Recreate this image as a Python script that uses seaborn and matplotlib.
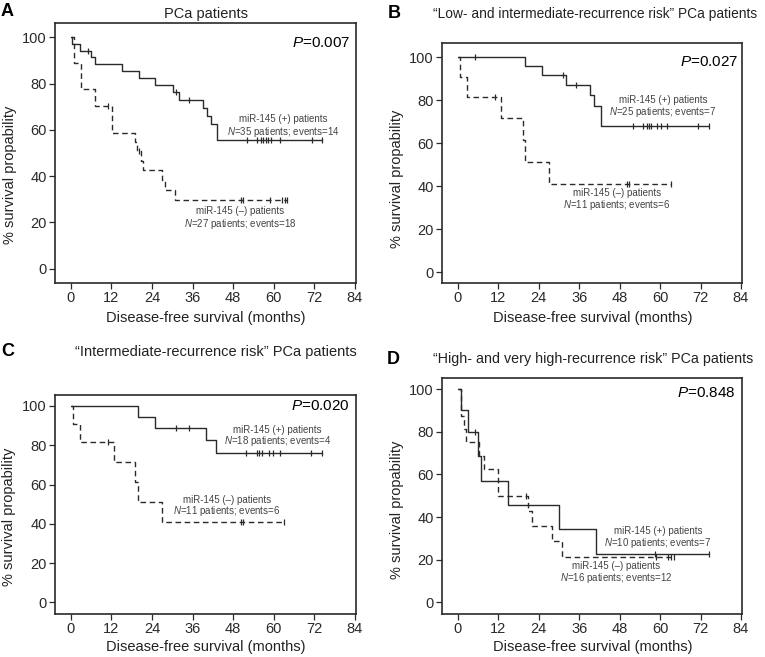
import matplotlib

matplotlib.use("Agg")
import matplotlib.pyplot as plt
import numpy as np
import seaborn as sns

# Kaplan-Meier step curves (months, % survival)
A_POS_TIMES = [0, 0.4, 2.7, 5.8, 7.1, 15.0, 20.0, 24.8, 30.3, 32.0, 39.0, 40.1, 41.4, 43.1, 74.2]
A_POS_SURV = [100, 97.1, 94.3, 91.4, 88.4, 85.4, 82.3, 79.3, 76.2, 73.0, 69.5, 66.0, 62.5, 55.5, 55.5]
A_POS_CENS = [5.1, 31.0, 34.9, 52.0, 55.1, 56.1, 56.9, 57.7, 58.4, 59.1, 61.8, 71.2, 74.2]
A_NEG_TIMES = [0, 0.8, 3.0, 7.0, 12.3, 19.0, 19.6, 20.6, 21.4, 26.8, 27.8, 30.8, 64.0]
A_NEG_SURV = [100, 88.9, 77.8, 70.4, 58.7, 54.8, 50.9, 46.7, 42.5, 38.3, 34.0, 29.8, 29.8]
A_NEG_CENS = [11.1, 20.0, 50.2, 51.0, 58.8, 62.4, 63.2, 64.0]

B_POS_TIMES = [0, 20.0, 25.1, 32.0, 39.3, 40.4, 42.6, 74.6]
B_POS_SURV = [100, 96.0, 91.7, 87.2, 82.4, 77.6, 67.9, 67.9]
B_POS_CENS = [5.1, 31.2, 35.0, 52.0, 55.0, 56.0, 56.6, 57.2, 59.2, 60.2, 62.1, 71.3, 74.6]
B_NEG_TIMES = [0, 0.7, 2.7, 12.9, 19.2, 20.0, 27.0, 63.2]
B_NEG_SURV = [100, 90.9, 81.8, 71.6, 61.4, 51.1, 40.9, 40.9]
B_NEG_CENS = [11.1, 50.3, 50.9, 63.2]

C_POS_TIMES = [0, 19.9, 24.8, 39.8, 42.9, 74.2]
C_POS_SURV = [100, 94.4, 88.9, 82.5, 76.2, 76.2]
C_POS_CENS = [31.0, 34.9, 51.8, 54.9, 55.7, 56.6, 58.7, 59.7, 61.8, 70.9, 74.2]
C_NEG_TIMES = [0, 0.7, 2.7, 12.8, 18.9, 19.9, 26.8, 63.0]
C_NEG_SURV = [100, 90.9, 81.8, 71.6, 61.4, 51.1, 40.9, 40.9]
C_NEG_CENS = [10.9, 50.3, 50.9, 63.0]

D_POS_TIMES = [0, 1.0, 2.9, 5.9, 6.9, 15.0, 30.1, 41.1, 74.6]
D_POS_SURV = [100, 90.0, 80.0, 68.6, 57.1, 45.7, 34.3, 22.9, 22.9]
D_POS_CENS = [5.0, 58.4, 74.6]
D_NEG_TIMES = [0, 0.8, 1.8, 2.5, 6.4, 7.9, 12.0, 20.9, 21.9, 27.9, 30.8, 64.0]
D_NEG_SURV = [100, 87.5, 81.3, 75.0, 68.8, 62.5, 50.0, 42.9, 35.7, 28.6, 21.4, 21.4]
D_NEG_CENS = [20.3, 58.8, 62.4, 63.3, 64.0]

LETTERS = ["A", "B", "C", "D"]
TITLES = [
    "PCa patients",
    "\u201cLow- and intermediate-recurrence risk\u201d PCa patients",
    "\u201cIntermediate-recurrence risk\u201d PCa patients",
    "\u201cHigh- and very high-recurrence risk\u201d PCa patients",
]
P_VALUES = ["0.007", "0.027", "0.020", "0.848"]
POS_N = [35, 25, 18, 10]
POS_EVENTS = [14, 7, 4, 7]
NEG_N = [27, 11, 11, 16]
NEG_EVENTS = [18, 6, 6, 12]

X_TICKS = [0, 12, 24, 36, 48, 60, 72, 84]
Y_TICKS = [0, 20, 40, 60, 80, 100]

W, H = 765, 657
INK = "#2a2a2a"
TEXT_GREY = "#444444"

# layout in figure pixels: (left, top, right, bottom), ylim, text spots
PANELS = [
    dict(box=(55, 23, 356, 283), ylim=(-6.2, 106.2),
         curves=((A_POS_TIMES, A_POS_SURV, A_POS_CENS), (A_NEG_TIMES, A_NEG_SURV, A_NEG_CENS)),
         p_xy=(0.98, 0.923), pos_xy=(62.7, 64.8), neg_xy=(50.0, 25.0),
         letter_xy=(7, 12), title_xy=(206, 14), title_size=10.5,
         ylab_xy=(10, 175), xlab_xy=(206, 318)),
    dict(box=(442, 43, 742, 283), ylim=(-5.0, 106.7),
         curves=((B_POS_TIMES, B_POS_SURV, B_POS_CENS), (B_NEG_TIMES, B_NEG_SURV, B_NEG_CENS)),
         p_xy=(0.987, 0.92), pos_xy=(60.8, 80.0), neg_xy=(47.2, 36.7),
         letter_xy=(394, 13), title_xy=(595, 14), title_size=9.9,
         ylab_xy=(397, 179), xlab_xy=(593, 318)),
    dict(box=(55, 395, 356, 614), ylim=(-5.9, 105.6),
         curves=((C_POS_TIMES, C_POS_SURV, C_POS_CENS), (C_NEG_TIMES, C_NEG_SURV, C_NEG_CENS)),
         p_xy=(0.98, 0.95), pos_xy=(61.0, 87.8), neg_xy=(46.2, 52.2),
         letter_xy=(8, 352), title_xy=(216, 352), title_size=10.5,
         ylab_xy=(9, 517), xlab_xy=(206, 647)),
    dict(box=(442, 378, 742, 614), ylim=(-5.4, 105.2),
         curves=((D_POS_TIMES, D_POS_SURV, D_POS_CENS), (D_NEG_TIMES, D_NEG_SURV, D_NEG_CENS)),
         p_xy=(0.98, 0.938), pos_xy=(59.4, 33.3), neg_xy=(46.9, 16.9),
         letter_xy=(393, 359), title_xy=(593, 359), title_size=10.3,
         ylab_xy=(397, 510), xlab_xy=(593, 647)),
]


def _configure_style() -> None:
    sns.set_theme(style="ticks")
    plt.rcParams["font.family"] = ["Liberation Sans", "DejaVu Sans"]
    plt.rcParams["mathtext.fontset"] = "custom"
    plt.rcParams["mathtext.rm"] = "Liberation Sans"
    plt.rcParams["mathtext.it"] = "Liberation Sans:italic"
    plt.rcParams["axes.edgecolor"] = INK
    plt.rcParams["xtick.color"] = INK
    plt.rcParams["ytick.color"] = INK


def fx(px: float) -> float:
    return px / W


def fy(py: float) -> float:
    return 1 - py / H


def draw_curve(ax, times, surv, cens, dashed: bool) -> None:
    style = (0, (4, 2.6)) if dashed else "-"
    sns.lineplot(x=times, y=surv, ax=ax, drawstyle="steps-post", estimator=None,
                 sort=False, color=INK, linewidth=1.0, linestyle=style)
    t = np.asarray(times)
    s = np.asarray(surv)
    idx = np.searchsorted(t, cens, side="right") - 1
    ax.plot(cens, s[idx], linestyle="none", marker="|", markersize=5,
            markeredgewidth=0.9, color=INK)


def draw_panel(fig, i: int, cfg: dict) -> None:
    left, top, right, bottom = cfg["box"]
    ax = fig.add_axes([fx(left), fy(bottom), fx(right - left), (bottom - top) / H])
    (pt, ps, pc), (nt, ns, nc) = cfg["curves"]
    draw_curve(ax, pt, ps, pc, dashed=False)
    draw_curve(ax, nt, ns, nc, dashed=True)

    ax.set_xlim(-4.7, 84.3)
    ax.set_ylim(*cfg["ylim"])
    ax.set_xticks(X_TICKS)
    ax.set_yticks(Y_TICKS)
    ax.tick_params(labelsize=10.5, length=4, width=0.9, pad=2)
    ax.set_xlabel("")
    ax.set_ylabel("")
    for sp in ax.spines.values():
        sp.set_linewidth(1.2)
        sp.set_visible(True)

    ax.text(*cfg["p_xy"], f"$P$=" + P_VALUES[i], transform=ax.transAxes,
            ha="right", va="center", fontsize=11, color="black")
    px, py = cfg["pos_xy"]
    ax.text(px, py, "miR-145 (+) patients", ha="center", va="center",
            fontsize=7, color=TEXT_GREY)
    ax.text(px, py - 5.6, f"$N$={POS_N[i]} patients; events={POS_EVENTS[i]}",
            ha="center", va="center", fontsize=7, color=TEXT_GREY)
    nx, ny = cfg["neg_xy"]
    ax.text(nx, ny, "miR-145 (\u2013) patients", ha="center", va="center",
            fontsize=7, color=TEXT_GREY)
    ax.text(nx, ny - 5.6, f"$N$={NEG_N[i]} patients; events={NEG_EVENTS[i]}",
            ha="center", va="center", fontsize=7, color=TEXT_GREY)

    lx, ly = cfg["letter_xy"]
    fig.text(fx(lx), fy(ly), LETTERS[i], ha="center", va="center",
             fontsize=13, fontweight="bold", color="black")
    tx, ty = cfg["title_xy"]
    fig.text(fx(tx), fy(ty), TITLES[i], ha="center", va="center",
             fontsize=cfg["title_size"], color="#222222")
    yx, yy = cfg["ylab_xy"]
    fig.text(fx(yx), fy(yy), "% survival propability", rotation=90,
             ha="center", va="center", fontsize=10.5, color="#222222")
    xx, xy = cfg["xlab_xy"]
    fig.text(fx(xx), fy(xy), "Disease-free survival (months)", ha="center",
             va="center", fontsize=10.5, color="#222222")


def main() -> None:
    _configure_style()
    fig = plt.figure(figsize=(W / 100, H / 100), dpi=100)
    for i, cfg in enumerate(PANELS):
        draw_panel(fig, i, cfg)
    fig.savefig("out.png", dpi=100, facecolor="white")
    plt.close(fig)


if __name__ == "__main__":
    main()
